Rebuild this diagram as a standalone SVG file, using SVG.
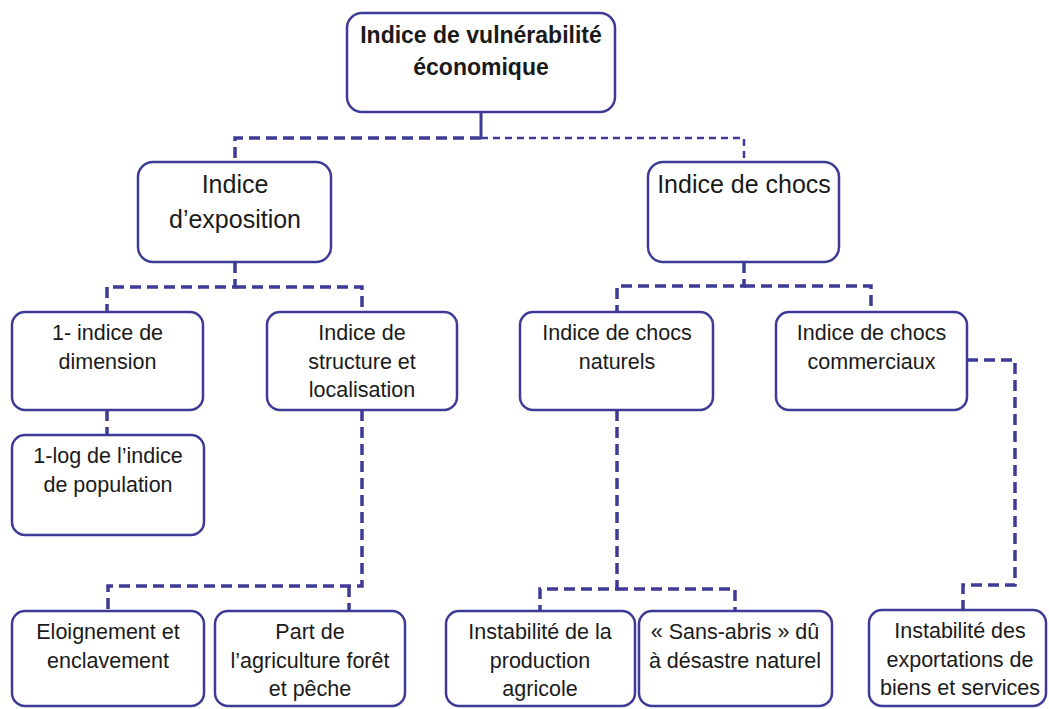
<svg xmlns="http://www.w3.org/2000/svg" width="1049" height="709" viewBox="0 0 1049 709">
<style>
.box{fill:#ffffff;stroke:#3d3b96;stroke-width:2.5}
.t{font-family:"Liberation Sans",Arial,sans-serif;fill:#1a1a1a;text-anchor:middle}
.t1{font-size:23px;font-weight:bold}
.t2{font-size:25px}
.t3{font-size:21.5px}
.c{fill:none;stroke:#3d3b96;stroke-width:3.5;stroke-dasharray:11 6}
.cs{fill:none;stroke:#3d3b96;stroke-width:2.5;stroke-dasharray:7 5}
.solid{fill:none;stroke:#3d3b96;stroke-width:3}
</style>
<rect width="1049" height="709" fill="#ffffff"/>
<g id="connectors">
  <path class="solid" d="M481,112 V138"/>
  <path class="c" d="M481,138 H235 V162"/>
  <path class="cs" d="M481,138 H744 V162"/>
  <path class="c" d="M235,262 V287 H107 V312"/>
  <path class="c" d="M235,287 H362 V312"/>
  <path class="c" d="M744,262 V286 H617 V312"/>
  <path class="c" d="M744,286 H871 V312"/>
  <path class="c" d="M107,410 V435"/>
  <path class="c" d="M362,410 V586 H108 V611"/>
  <path class="c" d="M349,586 V611"/>
  <path class="c" d="M617,410 V589 H540 V611"/>
  <path class="c" d="M617,589 H735 V611"/>
  <path class="c" d="M967,360 H1015 V585 H963 V610"/>
</g>
<g id="n-root">
  <rect class="box" x="347" y="13" width="268" height="99" rx="15"/>
  <text class="t t1" x="481" y="43">Indice de vulnérabilité</text>
  <text class="t t1" x="481" y="75">économique</text>
</g>
<g id="n-exposition">
  <rect class="box" x="138" y="162" width="193" height="100" rx="15"/>
  <text class="t t2" x="235" y="193">Indice</text>
  <text class="t t2" x="235" y="228">d’exposition</text>
</g>
<g id="n-chocs">
  <rect class="box" x="648" y="162" width="191" height="100" rx="15"/>
  <text class="t t2" x="744" y="193">Indice de chocs</text>
</g>
<g id="n-dimension">
  <rect class="box" x="12" y="312" width="191" height="98" rx="13"/>
  <text class="t t3" x="107.5" y="340">1- indice de</text>
  <text class="t t3" x="107.5" y="368.5">dimension</text>
</g>
<g id="n-structure">
  <rect class="box" x="267" y="312" width="190" height="98" rx="13"/>
  <text class="t t3" x="362" y="340">Indice de</text>
  <text class="t t3" x="362" y="368.5">structure et</text>
  <text class="t t3" x="362" y="397">localisation</text>
</g>
<g id="n-naturels">
  <rect class="box" x="520" y="312" width="193" height="98" rx="13"/>
  <text class="t t3" x="617" y="340">Indice de chocs</text>
  <text class="t t3" x="617" y="368.5">naturels</text>
</g>
<g id="n-commerciaux">
  <rect class="box" x="776" y="312" width="191" height="98" rx="13"/>
  <text class="t t3" x="871.5" y="340">Indice de chocs</text>
  <text class="t t3" x="871.5" y="368.5">commerciaux</text>
</g>
<g id="n-population">
  <rect class="box" x="12" y="435" width="192" height="100" rx="13"/>
  <text class="t t3" x="108" y="463">1-log de l’indice</text>
  <text class="t t3" x="108" y="492">de population</text>
</g>
<g id="n-eloignement">
  <rect class="box" x="12" y="611" width="192" height="95" rx="13"/>
  <text class="t t3" x="108" y="639">Eloignement et</text>
  <text class="t t3" x="108" y="667.5">enclavement</text>
</g>
<g id="n-agriculture">
  <rect class="box" x="215" y="611" width="190" height="95" rx="13"/>
  <text class="t t3" x="310" y="639">Part de</text>
  <text class="t t3" x="310" y="667.5">l’agriculture forêt</text>
  <text class="t t3" x="310" y="696">et pêche</text>
</g>
<g id="n-production">
  <rect class="box" x="446" y="611" width="189" height="95" rx="13"/>
  <text class="t t3" x="540" y="639">Instabilité de la</text>
  <text class="t t3" x="540" y="667.5">production</text>
  <text class="t t3" x="540" y="696">agricole</text>
</g>
<g id="n-sansabris">
  <rect class="box" x="639" y="611" width="193" height="95" rx="13"/>
  <text class="t t3" x="735" y="639">« Sans-abris » dû</text>
  <text class="t t3" x="735" y="667.5">à désastre naturel</text>
</g>
<g id="n-exportations">
  <rect class="box" x="869" y="610" width="177" height="96" rx="13"/>
  <text class="t t3" x="960" y="638">Instabilité des</text>
  <text class="t t3" x="960" y="666.5">exportations de</text>
  <text class="t t3" x="960" y="695">biens et services</text>
</g>
</svg>
